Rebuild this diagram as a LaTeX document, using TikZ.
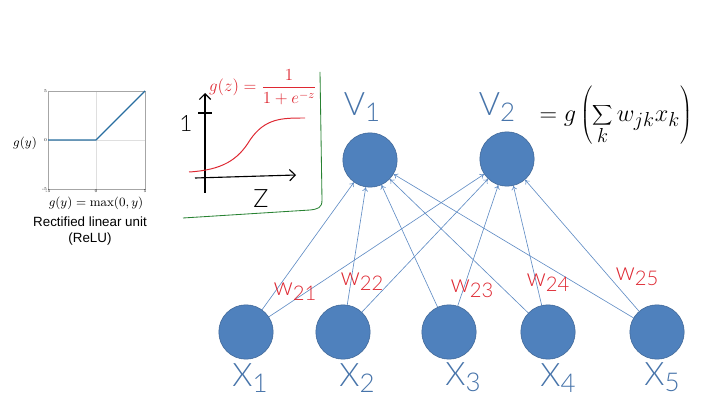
\documentclass[tikz,border=0pt]{standalone}
\usepackage{fontspec}
\usepackage{tikz}
\usetikzlibrary{arrows.meta}
\newfontfamily\arialfont{Liberation Sans}
\newfontfamily\handfont{Lato}[UprightFont={* Light}]
\definecolor{nodeblue}{RGB}{79,129,189}
\definecolor{edgeblue}{RGB}{96,140,196}
\definecolor{reluline}{RGB}{40,110,160}
\definecolor{inkred}{RGB}{222,40,50}
\definecolor{inkgreen}{RGB}{40,130,50}
\newcommand{\lowsub}[1]{\raisebox{-0.4ex}{\scalebox{0.8}{#1}}}

\begin{document}
\begin{tikzpicture}[
        x=0.025cm,
        y=-0.025cm,
        unit/.style={circle,fill=nodeblue,draw=nodeblue!80!black,line width=0.4pt,minimum size=1.36cm,inner sep=0pt},
        link/.style={-{To[length=3pt,width=4pt]},edgeblue,line width=0.45pt},
        wlabel/.style={inkred,font=\handfont\fontsize{18}{18}\selectfont},
        namelabel/.style={nodeblue!90!black,font=\handfont\fontsize{23}{23}\selectfont},
        ticklab/.style={font=\fontsize{3}{3}\selectfont,inner sep=0.5pt},
        sketch/.style={-{Straight Barb[length=4pt]},line width=0.8pt}
    ]
        \useasboundingbox (0,0) rectangle (720,405);
        \draw[gray!25] (96,91) -- (96,189);
        \draw[gray!25] (48,140) -- (145,140);
        \draw[gray!70] (48,91) rectangle (145,189);
        \draw[reluline,line width=1pt] (48,140) -- (96,140) -- (145,91);
        \node[ticklab,anchor=east] (t5) at (48,91) {5};
        \node[ticklab,anchor=east] (t0) at (48,140) {0};
        \node[ticklab,anchor=east] (tm5) at (48,189) {-5};
        \node[ticklab,anchor=north] (bm5) at (48,189) {-5};
        \node[ticklab,anchor=north] (b0) at (96,189) {0};
        \node[ticklab,anchor=north] (b5) at (145,189) {5};
        \node[font=\fontsize{9}{9}\selectfont] (gy) at (25,143) {$g(y)$};
        \node[font=\fontsize{9}{9}\selectfont] (relu) at (96,203) {$g(y)=\max(0,y)$};
        \node[font=\arialfont\fontsize{9.5}{11.5}\selectfont,align=center] (reluname) at (90,231) {Rectified linear unit\\(ReLU)};

        \draw[sketch] (205,193) -- (205,93);
        \draw[line width=0.8pt] (198,113) -- (212,113);
        \draw[sketch] (195,178) -- (296,175);
        \node[font=\handfont\fontsize{16}{16}\selectfont] (one) at (186,124) {1};
        \node[font=\handfont\fontsize{18}{18}\selectfont] (zed) at (261,199) {Z};
        \draw[inkred,line width=0.7pt] (189,172) .. controls (222,170) and (238,160) .. (250,140)
            .. controls (265,118) and (282,118) .. (305,118);
        \node[inkred,font=\fontsize{11.5}{11.5}\selectfont] (sigm) at (263,87) {$g(z)=\displaystyle\frac{1}{1+e^{-z}}$};
        \draw[inkgreen,line width=0.6pt] (320,72) -- (322,200) .. controls (322,208) and (318,209) .. (310,210) -- (183,218);

        \node[unit] (v1) at (370,160) {};
        \node[unit] (v2) at (507,159) {};
        \node[unit] (x1) at (246,332) {};
        \node[unit] (x2) at (343,332) {};
        \node[unit] (x3) at (449,332) {};
        \node[unit] (x4) at (548,332) {};
        \node[unit] (x5) at (657,332) {};
        \foreach \i in {1,...,5} {
            \draw[link] (x\i) -- (v1);
            \draw[link] (x\i) -- (v2);
        }

        \node[namelabel] (v1name) at (362,107) {V\lowsub{1}};
        \node[namelabel] (v2name) at (497,107) {V\lowsub{2}};
        \node[font=\fontsize{19}{19}\selectfont] (rule) at (616,115) {$\displaystyle = g\left(\sum_k w_{jk}x_k\right)$};
        \node[namelabel] (x1name) at (250,378) {X\lowsub{1}};
        \node[namelabel] (x2name) at (357,378) {X\lowsub{2}};
        \node[namelabel] (x3name) at (463,377) {X\lowsub{3}};
        \node[namelabel] (x4name) at (558,378) {X\lowsub{4}};
        \node[namelabel] (x5name) at (662,377) {X\lowsub{5}};

        \node[wlabel] (w21) at (295,292) {w\lowsub{21}};
        \node[wlabel] (w22) at (362,282) {w\lowsub{22}};
        \node[wlabel] (w23) at (472,289) {w\lowsub{23}};
        \node[wlabel] (w24) at (548,283) {w\lowsub{24}};
        \node[wlabel] (w25) at (637,277) {w\lowsub{25}};
    \end{tikzpicture}
\end{document}
